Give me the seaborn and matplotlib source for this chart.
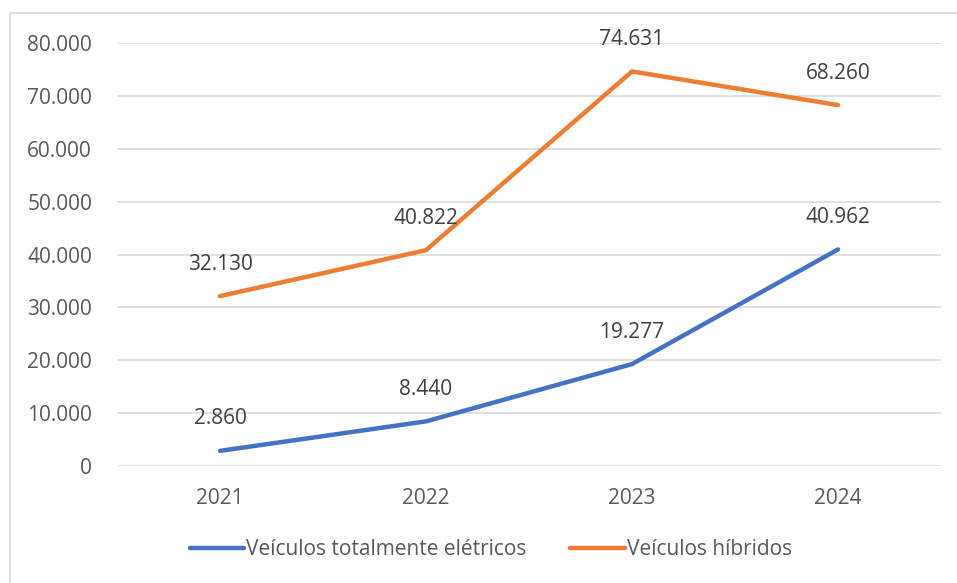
import matplotlib

matplotlib.use("Agg")
import matplotlib.pyplot as plt
from matplotlib.lines import Line2D
from matplotlib.patches import Rectangle
from matplotlib.ticker import FuncFormatter
import pandas as pd
import seaborn as sns

years = ["2021", "2022", "2023", "2024"]
eletricos = [2860, 8440, 19277, 40962]
hibridos = [32130, 40822, 74631, 68260]
series_names = ["Veículos totalmente elétricos", "Veículos híbridos"]
colors = {"Veículos totalmente elétricos": "#4472C4", "Veículos híbridos": "#ED7D31"}

sns.set_theme(style="white")
plt.rcParams["font.family"] = ["Open Sans", "DejaVu Sans"]
TXT = "#595959"
GRID = "#D9D9D9"
FS = 15

df = pd.DataFrame({
    "ano": years * 2,
    "valor": eletricos + hibridos,
    "serie": [series_names[0]] * 4 + [series_names[1]] * 4,
})
df["x"] = list(range(len(years))) * 2

fig = plt.figure(figsize=(9.57, 5.83), dpi=100)
ax = fig.add_axes([0.1223, 0.2007, 0.861, 0.7255])

sns.lineplot(data=df, x="x", y="valor", hue="serie", palette=colors,
             linewidth=3.2, ax=ax, legend=False, zorder=3,
             solid_capstyle="round")

for _, r in df.iterrows():
    ax.annotate(f"{r['valor']:,}".replace(",", "."), (r["x"], r["valor"]),
                textcoords="offset points", xytext=(0, 23), ha="center",
                va="center", fontsize=FS, color="#404040")

ax.set_xlim(-0.5, len(years) - 0.5)
ax.set_ylim(0, 80000)
ax.set_yticks(range(0, 80001, 10000))
ax.yaxis.set_major_formatter(FuncFormatter(lambda v, p: f"{int(v):,}".replace(",", ".")))
ax.set_xticks(range(len(years)))
ax.set_xticklabels(years)
ax.grid(axis="y", color=GRID, linewidth=1.1)
ax.set_axisbelow(True)
for s in ax.spines.values():
    s.set_visible(False)
ax.tick_params(axis="both", length=0, labelsize=FS, colors=TXT)
ax.tick_params(axis="y", pad=18)
ax.tick_params(axis="x", pad=16)
ax.set_xlabel("")
ax.set_ylabel("")

handles = [Line2D([0], [0], color=colors[n], lw=3.2, solid_capstyle="round") for n in series_names]
fig.legend(handles, series_names, loc="center", bbox_to_anchor=(0.513, 0.057),
           ncol=2, frameon=False, fontsize=FS, labelcolor=TXT,
           handlelength=2.6, handletextpad=0.1, columnspacing=2.1)

fig.patches.append(Rectangle((10 / 957, -0.05), 1.0, 1 - 13 / 583 + 0.05,
                             transform=fig.transFigure, fill=False,
                             edgecolor=GRID, linewidth=1.2))

fig.savefig("out.png", dpi=100)
